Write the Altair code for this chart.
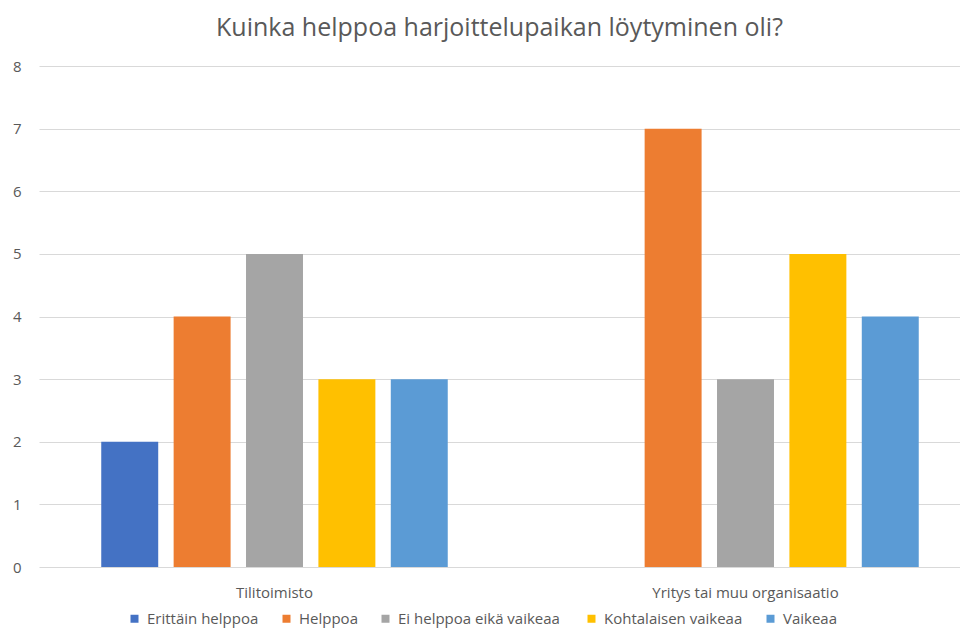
import altair as alt
import pandas as pd

categories = ["Tilitoimisto", "Yritys tai muu organisaatio"]
series = ["Erittäin helppoa", "Helppoa", "Ei helppoa  eikä vaikeaa", "Kohtalaisen vaikeaa", "Vaikeaa"]
colors = ["#4472C4", "#ED7D31", "#A5A5A5", "#FFC000", "#5B9BD5"]
tilitoimisto = [2, 4, 5, 3, 3]
yritys = [0, 7, 3, 5, 4]

rows = []
for s, v in zip(series, tilitoimisto):
    rows.append({"Kategoria": categories[0], "Sarja": s, "Arvo": v})
for s, v in zip(series, yritys):
    rows.append({"Kategoria": categories[1], "Sarja": s, "Arvo": v})
df = pd.DataFrame(rows)

FONT = "Open Sans"
GRAY = "#595959"

chart = alt.Chart(df).mark_bar().encode(
    x=alt.X("Kategoria:N", sort=categories, title=None,
            scale=alt.Scale(paddingInner=0, paddingOuter=0, range=[0, 942]),
            axis=alt.Axis(labelAngle=0, ticks=False, domain=False, labelPadding=18,
                          labelFontSize=15, labelColor=GRAY, labelFont=FONT, labelLimit=0)),
    xOffset=alt.XOffset("Sarja:N", sort=series,
                        scale=alt.Scale(paddingInner=0.213, paddingOuter=0.86)),
    y=alt.Y("Arvo:Q", title=None,
            scale=alt.Scale(domain=[0, 8], nice=False),
            axis=alt.Axis(values=[0, 1, 2, 3, 4, 5, 6, 7, 8], ticks=False, domain=False,
                          labelPadding=18, labelFontSize=15, labelColor=GRAY, labelFont=FONT,
                          gridColor="#D9D9D9", gridWidth=1)),
    color=alt.Color("Sarja:N", sort=series,
                    scale=alt.Scale(domain=series, range=colors),
                    legend=alt.Legend(orient="none", legendX=88, legendY=545,
                                      title=None, direction="horizontal",
                                      columns=5, symbolType="square", symbolSize=64,
                                      symbolStrokeWidth=0, labelFontSize=15, labelColor=GRAY,
                                      labelFont=FONT, columnPadding=20, labelOffset=5,
                                      labelLimit=0)),
).properties(
    width=921,
    height=501,
    autosize=alt.AutoSizeParams(type="none"),
    title=alt.TitleParams("Kuinka helppoa harjoittelupaikan löytyminen oli?",
                          fontSize=25, font=FONT, fontWeight="normal", color=GRAY,
                          offset=18),
    padding={"left": 31, "right": 0, "top": 58, "bottom": 64},
).configure_view(stroke=None)

chart.save("out.html", embed_options={"renderer": "svg", "actions": False})
